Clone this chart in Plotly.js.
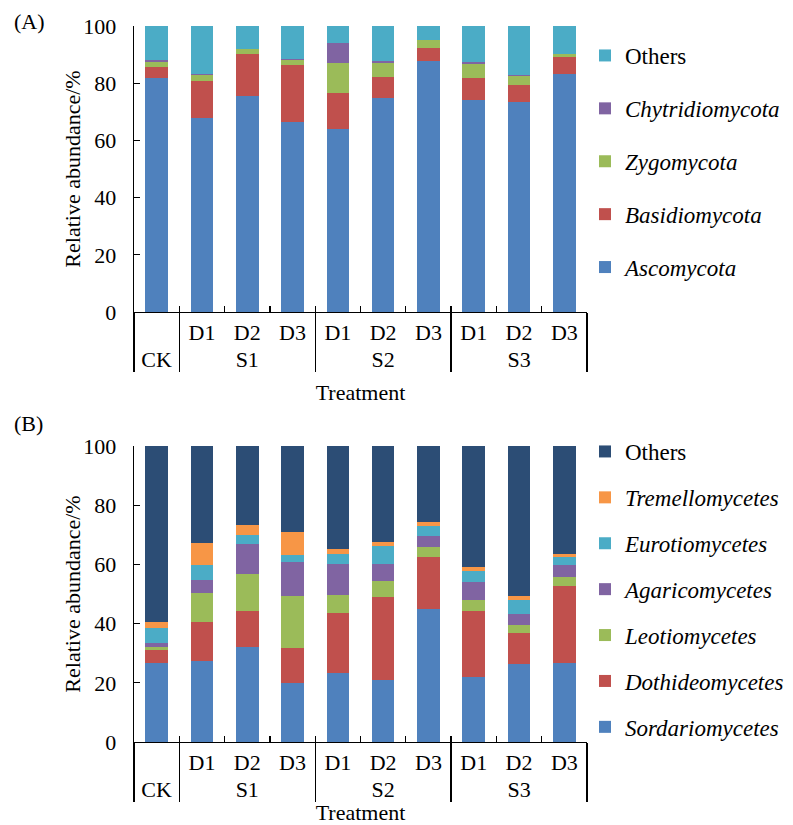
<!DOCTYPE html>
<html>
<head>
<meta charset="utf-8">
<script src="https://cdn.plot.ly/plotly-3.0.1.min.js"></script>
<style>html,body{margin:0;padding:0;background:#fff;}#chart{width:793px;height:825px;}</style>
</head>
<body>
<div id="chart"></div>
<script>
// Category labels
var groups = ["CK","S1","S1","S1","S2","S2","S2","S3","S3","S3"];
var subs   = [" ","D1","D2","D3","D1","D2","D3","D1","D2","D3"];

// Panel A: phylum level (%)
var namesA = ["<i>Ascomycota</i>","<i>Basidiomycota</i>","<i>Zygomycota</i>","<i>Chytridiomycota</i>","Others"];
var ascomycota      = [81.7, 67.9, 75.5, 66.5, 64.0, 74.9, 87.6, 74.2, 73.5, 83.3];
var basidiomycota   = [4.1, 13.0, 14.8, 19.8, 12.6, 7.4, 4.8, 7.7, 5.7, 5.9];
var zygomycota      = [1.6, 2.1, 1.6, 1.8, 10.3, 4.8, 2.7, 4.8, 3.2, 1.1];
var chytridiomycota = [0.6, 0.3, 0.1, 0.2, 7.1, 0.7, 0.0, 0.6, 0.4, 0.0];
var othersA         = [12.0, 16.7, 8.0, 11.7, 6.0, 12.2, 4.9, 12.7, 17.2, 9.7];
var colorsA = ["#4F81BD","#C0504D","#9BBB59","#8064A2","#4BACC6"];

// Panel B: class level (%)
var namesB = ["<i>Sordariomycetes</i>","<i>Dothideomycetes</i>","<i>Leotiomycetes</i>","<i>Agaricomycetes</i>","<i>Eurotiomycetes</i>","<i>Tremellomycetes</i>","Others"];
var sordariomycetes = [26.8, 27.4, 32.1, 19.8, 23.2, 21.1, 45.0, 22.0, 26.4, 26.8];
var dothideomycetes = [4.4, 13.0, 12.2, 12.1, 20.4, 27.9, 17.5, 22.1, 10.3, 26.0];
var leotiomycetes   = [1.0, 9.8, 12.3, 17.5, 6.1, 5.4, 3.5, 3.9, 2.8, 2.8];
var agaricomycetes  = [1.4, 4.7, 10.4, 11.3, 10.5, 5.6, 3.6, 6.1, 3.9, 4.1];
var eurotiomycetes  = [5.0, 4.8, 2.9, 2.5, 3.4, 6.3, 3.4, 3.6, 4.5, 2.8];
var tremellomycetes = [2.1, 7.6, 3.3, 7.9, 1.6, 1.4, 1.4, 1.5, 1.5, 1.1];
var othersB         = [59.3, 32.7, 26.8, 28.9, 34.8, 32.3, 25.6, 40.8, 50.6, 36.4];
var colorsB = ["#4F81BD","#C0504D","#9BBB59","#8064A2","#4BACC6","#F79646","#2C4D75"];

var seriesA = [ascomycota, basidiomycota, zygomycota, chytridiomycota, othersA];
var seriesB = [sordariomycetes, dothideomycetes, leotiomycetes, agaricomycetes, eurotiomycetes, tremellomycetes, othersB];

var FONT = "Liberation Serif";
var traces = [];
seriesA.forEach(function(v, i){
  traces.push({type:"bar", x:[groups, subs], y:v, name:namesA[i],
    marker:{color:colorsA[i], line:{width:0}}, xaxis:"x", yaxis:"y",
    legend:"legend", legendgroup:"a"+i, legendrank:100 - i});
});
seriesB.forEach(function(v, i){
  traces.push({type:"bar", x:[groups, subs], y:v, name:namesB[i],
    marker:{color:colorsB[i], line:{width:0}}, xaxis:"x2", yaxis:"y2",
    legend:"legend2", legendgroup:"b"+i, legendrank:100 - i});
});

function xax(anchor, standoff){
  return {type:"multicategory", domain:[134/793, 587/793], anchor:anchor,
    showline:true, linecolor:"#000", linewidth:1.3, mirror:false,
    ticks:"inside", ticklen:6, tickwidth:1.3, tickcolor:"#000", tickson:"boundaries",
    showdividers:true, dividercolor:"#000", dividerwidth:1.3,
    tickfont:{family:FONT, size:22, color:"#000"},
    showgrid:false, zeroline:false,
    title:{text:"Treatment", font:{family:FONT, size:22, color:"#000"}, standoff:standoff}};
}
function yax(anchor, dom){
  return {domain:dom, anchor:anchor, range:[0,100], dtick:20, tick0:0,
    showline:true, linecolor:"#000", linewidth:1.3,
    ticks:"inside", ticklen:6, tickwidth:1.3, tickcolor:"#000",
    ticklabelstandoff:12,
    tickfont:{family:FONT, size:22, color:"#000"},
    showgrid:false, zeroline:false,
    title:{text:"Relative abundance/%", font:{family:FONT, size:22, color:"#000"}}};
}

var layout = {
  width:793, height:825,
  margin:{l:0, r:0, t:0, b:0},
  paper_bgcolor:"#fff", plot_bgcolor:"#fff",
  barmode:"stack", bargap:0.5,
  font:{family:FONT, size:22, color:"#000"},
  xaxis:xax("y", 14),
  yaxis:yax("x", [(825-312)/825, (825-26)/825]),
  xaxis2:xax("y2", 4),
  yaxis2:yax("x2", [(825-742)/825, (825-446)/825]),
  legend:{x:585/793, y:1-34/825, xanchor:"left", yanchor:"top",
    traceorder:"grouped", tracegroupgap:20,
    font:{family:FONT, size:23, color:"#000"}, bgcolor:"rgba(0,0,0,0)"},
  legend2:{x:585/793, y:1-430/825, xanchor:"left", yanchor:"top",
    traceorder:"grouped", tracegroupgap:13,
    font:{family:FONT, size:23, color:"#000"}, bgcolor:"rgba(0,0,0,0)"},
  annotations:[
    {text:"(A)", xref:"paper", yref:"paper", x:12/793, y:1-22/825, xanchor:"left", yanchor:"middle", showarrow:false, font:{family:FONT, size:22, color:"#000"}},
    {text:"(B)", xref:"paper", yref:"paper", x:12/793, y:1-423/825, xanchor:"left", yanchor:"middle", showarrow:false, font:{family:FONT, size:22, color:"#000"}}
  ],
  showlegend:true
};

Plotly.newPlot("chart", traces, layout, {displayModeBar:false, staticPlot:true});
</script>
</body>
</html>
